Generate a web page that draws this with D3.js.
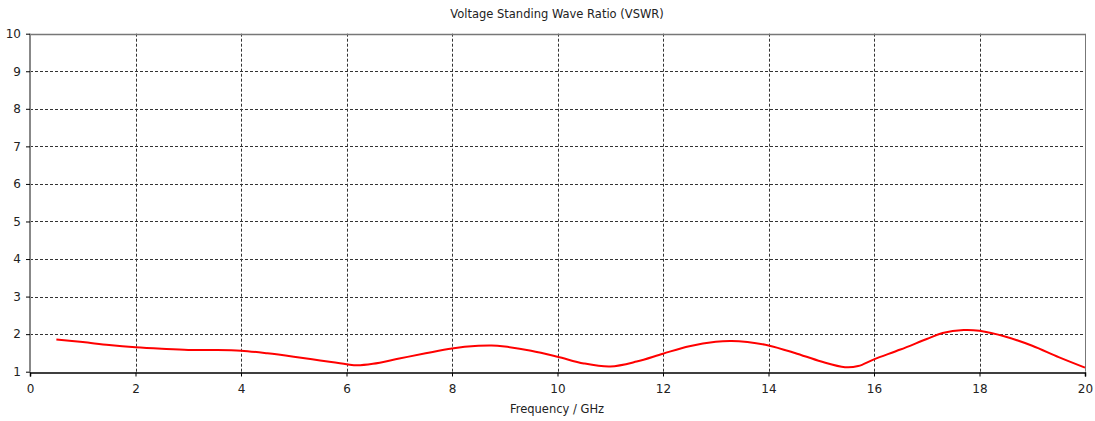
<!DOCTYPE html>
<html><head><meta charset="utf-8">
<script src="https://cdn.jsdelivr.net/npm/d3@7"></script>
<style>body{margin:0;background:#fff}svg{display:block}text{font-family:"DejaVu Sans",sans-serif;fill:#222}</style>
</head><body><svg id="c" width="1095" height="421"></svg>
<script>
const title = "Voltage Standing Wave Ratio (VSWR)";
const xLabel = "Frequency / GHz";
const xTicks = [0,2,4,6,8,10,12,14,16,18,20];
const yTicks = [1,2,3,4,5,6,7,8,9,10];
const freq = [0.5,1.0,1.5,2.0,2.5,3.0,3.5,4.0,4.5,5.0,5.5,6.0,6.2,6.5,7.0,7.5,8.0,8.5,8.75,9.0,9.5,10.0,10.5,11.0,11.5,12.0,12.5,13.0,13.3,13.6,14.0,14.5,15.0,15.45,15.7,16.0,16.5,17.0,17.3,17.7,18.0,18.5,19.0,19.5,20.0];
const vswr = [1.86,1.79,1.71,1.65,1.61,1.58,1.58,1.56,1.49,1.40,1.30,1.20,1.17,1.21,1.35,1.49,1.62,1.69,1.70,1.67,1.56,1.40,1.22,1.14,1.27,1.48,1.68,1.80,1.82,1.79,1.70,1.50,1.27,1.12,1.15,1.33,1.59,1.87,2.03,2.11,2.09,1.93,1.69,1.39,1.11];

const svg = d3.select("#c");
const L=30, R=1085, T=33.7, B=371.7;
const x = d3.scaleLinear().domain([0,20]).range([L,R]);
const y = d3.scaleLinear().domain([1,10]).range([B,T]);

// grid
svg.append("g").selectAll("line").data(xTicks.filter(d=>d>0&&d<20)).join("line")
  .attr("x1",d=>Math.round(x(d))+0.5).attr("x2",d=>Math.round(x(d))+0.5)
  .attr("y1",T).attr("y2",B).attr("stroke","#333").attr("stroke-dasharray","3,2").attr("stroke-width",1);
svg.append("g").selectAll("line").data(yTicks.filter(d=>d>1&&d<10)).join("line")
  .attr("y1",d=>Math.round(y(d))+0.5).attr("y2",d=>Math.round(y(d))+0.5)
  .attr("x1",L).attr("x2",R).attr("stroke","#333").attr("stroke-dasharray","3,2").attr("stroke-width",1);

// frame
svg.append("line").attr("x1",L).attr("x2",R).attr("y1",Math.round(T)+0.5).attr("y2",Math.round(T)+0.5).attr("stroke","#777").attr("stroke-width",1.5);
svg.append("line").attr("x1",R+0.5).attr("x2",R+0.5).attr("y1",T).attr("y2",B).attr("stroke","#777").attr("stroke-width",1);
svg.append("line").attr("x1",L).attr("x2",L).attr("y1",T).attr("y2",B).attr("stroke","#888").attr("stroke-width",2);

// axes
const xAxis = svg.append("g").attr("transform",`translate(0,${Math.round(B)+0.5})`)
  .call(d3.axisBottom(x).tickValues(xTicks).tickSize(4).tickPadding(8).tickFormat(d3.format("d")));
xAxis.select(".domain").attr("stroke","#000").attr("stroke-width",1.5);
xAxis.selectAll("text").style("font-size","12px").style("font-family","'DejaVu Sans',sans-serif").attr("fill","#222");
const yAxis = svg.append("g").attr("transform",`translate(${L},0)`)
  .call(d3.axisLeft(y).tickValues(yTicks).tickSize(4).tickPadding(5).tickFormat(d3.format("d")));
yAxis.select(".domain").remove();
yAxis.selectAll("text").style("font-size","12px").style("font-family","'DejaVu Sans',sans-serif").attr("fill","#222");

// curve
const line = d3.line().x((d,i)=>x(freq[i])).y(d=>y(d)).curve(d3.curveCatmullRom.alpha(0.5));
svg.append("path").datum(vswr).attr("d",line).attr("fill","none").attr("stroke","#ff0000").attr("stroke-width",2);

svg.append("text").attr("x",557).attr("y",18).attr("text-anchor","middle").style("font-size","11.5px").text(title);
svg.append("text").attr("x",557).attr("y",413).attr("text-anchor","middle").style("font-size","11.5px").text(xLabel);
</script></body></html>
